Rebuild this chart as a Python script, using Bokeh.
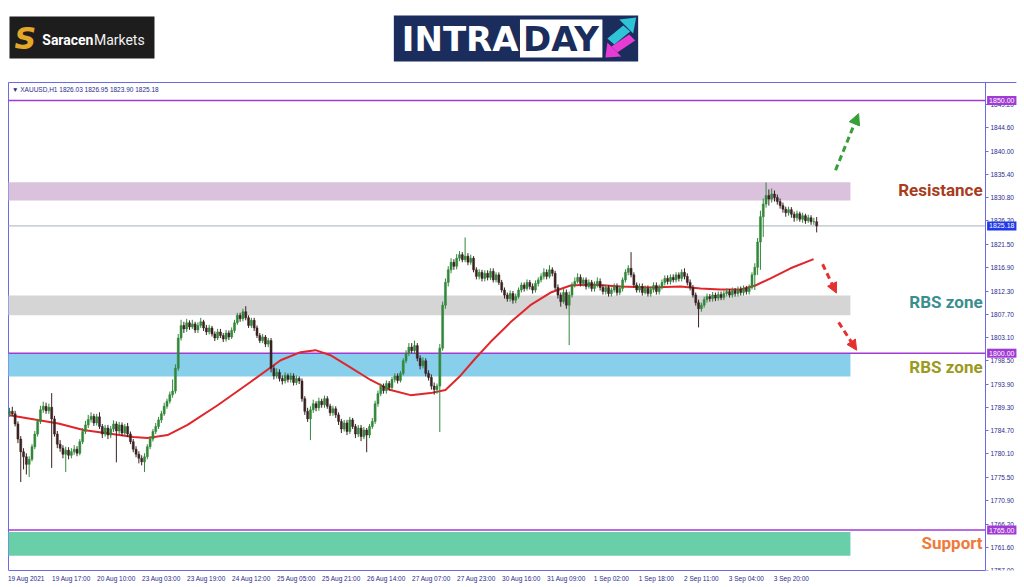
from bokeh.plotting import figure
from bokeh.layouts import column
from bokeh.models import Range1d, FixedTicker, Label, Arrow, NormalHead, PrintfTickFormatter, ColumnDataSource
from bokeh.core.properties import value
from bokeh.embed import file_html
from bokeh.resources import INLINE

# ---------------- data ----------------
first_open = 1788.0
closes = [
    1788.5, 1788.0, 1786.0, 1783.0, 1780.5, 1779.5, 1778.0, 1779.0, 1781.5, 1784.0,
    1786.5, 1788.8, 1789.5, 1788.6, 1789.3, 1787.0, 1784.0, 1782.0, 1781.2, 1780.0,
    1780.8, 1779.8, 1780.5, 1781.0, 1780.2, 1782.5, 1784.5, 1785.8, 1786.9, 1787.5,
    1786.2, 1787.4, 1785.5, 1784.0, 1785.2, 1783.8, 1785.0, 1786.0, 1784.6, 1785.8,
    1784.2, 1785.5, 1784.0, 1782.5, 1781.0, 1780.0, 1779.2, 1778.5, 1779.5, 1781.5,
    1783.0, 1784.5, 1785.5, 1786.8, 1788.0, 1789.5, 1790.5, 1791.8, 1792.5, 1797.0,
    1803.0, 1805.5, 1804.8, 1806.0, 1805.2, 1805.8, 1804.6, 1805.5, 1806.2, 1805.0,
    1804.2, 1805.0, 1803.8, 1803.0, 1804.2, 1803.5, 1802.8, 1804.0, 1803.2, 1804.5,
    1806.0, 1807.5, 1806.8, 1808.2, 1807.0, 1805.5, 1806.5, 1805.0, 1803.5, 1802.5,
    1803.2, 1801.8, 1802.5, 1797.0, 1795.5, 1796.2, 1795.0, 1794.5, 1795.6, 1794.8,
    1795.5, 1794.2, 1795.0, 1794.5, 1791.0, 1788.5, 1787.0, 1788.8, 1790.0, 1789.2,
    1790.5, 1789.8, 1791.0, 1789.5, 1788.2, 1789.0, 1787.8, 1786.5, 1785.0, 1786.2,
    1784.5, 1786.8, 1785.5, 1784.0, 1785.2, 1783.5, 1784.8, 1783.8, 1785.5, 1786.5,
    1790.0, 1792.0, 1793.5, 1792.6, 1794.0, 1793.2, 1794.8, 1795.5, 1794.6, 1796.0,
    1798.5, 1800.0, 1801.2, 1800.5, 1801.5, 1799.0, 1797.5, 1798.5, 1796.0, 1795.2,
    1793.5, 1792.8, 1793.5, 1801.0, 1809.5, 1814.0, 1816.5, 1818.0, 1817.2, 1818.8,
    1819.5, 1818.5, 1819.2, 1818.0, 1818.8, 1816.5, 1815.2, 1816.0, 1814.8, 1815.8,
    1815.0, 1816.2, 1814.5, 1815.5, 1814.0, 1812.5, 1811.5, 1810.8, 1811.8, 1810.5,
    1811.2, 1812.5, 1813.5, 1812.8, 1814.0, 1813.2, 1812.5, 1813.8, 1814.5, 1815.2,
    1816.0, 1815.2, 1816.5, 1815.8, 1813.0, 1811.5, 1810.2, 1812.0, 1809.5, 1811.5,
    1813.5, 1814.2, 1815.0, 1813.8, 1814.5, 1813.2, 1814.0, 1812.8, 1813.6, 1814.2,
    1813.0, 1812.2, 1813.0, 1811.8, 1812.5, 1813.2, 1812.0, 1812.8, 1814.5, 1816.0,
    1816.8, 1815.5, 1813.5, 1812.5, 1813.2, 1812.0, 1812.8, 1811.8, 1812.6, 1813.4,
    1812.2, 1813.0, 1814.0, 1814.8, 1814.2, 1815.0, 1814.5, 1815.5, 1814.8, 1816.0,
    1815.2, 1814.0, 1813.0, 1811.5, 1810.0, 1808.8, 1809.5, 1810.6, 1811.2, 1810.8,
    1811.5, 1810.9, 1811.6, 1811.0, 1811.8, 1812.2, 1811.5, 1812.4, 1811.8, 1812.6,
    1812.0, 1812.8, 1812.2, 1813.0, 1815.5, 1817.0, 1822.0, 1827.0, 1829.5, 1831.2,
    1830.5, 1831.5, 1830.8, 1830.0, 1829.2, 1828.5, 1827.8, 1828.4, 1827.5, 1826.8,
    1827.6, 1826.5, 1827.2, 1826.2, 1826.8, 1826.0, 1826.03, 1825.18,
]
highs = [
    1789.2, 1789.4, 1788.6, 1786.5, 1783.6, 1781.2, 1780.2, 1779.6, 1782.0, 1784.6,
    1787.0, 1789.6, 1790.4, 1790.2, 1790.0, 1792.1, 1787.6, 1784.6, 1782.8, 1781.8,
    1781.5, 1781.4, 1781.2, 1781.8, 1781.6, 1783.0, 1785.2, 1786.6, 1787.8, 1788.3,
    1788.0, 1788.0, 1788.3, 1786.0, 1785.8, 1785.8, 1785.6, 1786.7, 1786.5, 1786.4,
    1786.3, 1786.0, 1786.2, 1784.5, 1783.0, 1781.6, 1780.6, 1779.8, 1780.2, 1782.0,
    1783.6, 1785.0, 1786.2, 1787.4, 1788.6, 1790.2, 1791.0, 1792.4, 1794.8, 1797.8,
    1803.8, 1806.6, 1806.2, 1806.8, 1806.5, 1806.6, 1806.2, 1806.1, 1807.0, 1806.6,
    1805.6, 1805.6, 1805.4, 1804.3, 1804.8, 1804.8, 1804.0, 1804.6, 1804.5, 1805.1,
    1806.6, 1808.0, 1808.0, 1808.8, 1809.3, 1807.5, 1807.0, 1807.0, 1805.5, 1804.0,
    1803.8, 1803.6, 1803.0, 1803.0, 1797.6, 1797.0, 1796.8, 1795.6, 1796.2, 1796.0,
    1796.1, 1796.0, 1795.6, 1795.4, 1795.0, 1791.5, 1789.2, 1789.5, 1790.8, 1790.5,
    1791.2, 1791.0, 1791.6, 1791.5, 1790.0, 1789.6, 1789.5, 1788.3, 1787.0, 1786.8,
    1786.8, 1787.4, 1787.2, 1786.0, 1785.8, 1785.8, 1785.4, 1785.2, 1786.0, 1787.2,
    1790.6, 1792.6, 1794.0, 1794.0, 1794.6, 1794.5, 1795.3, 1796.0, 1796.0, 1796.5,
    1799.0, 1800.6, 1802.0, 1802.0, 1802.5, 1802.0, 1799.6, 1799.2, 1799.0, 1796.6,
    1795.8, 1794.2, 1794.0, 1801.8, 1810.2, 1814.8, 1817.2, 1818.8, 1818.6, 1819.6,
    1820.2, 1820.0, 1822.9, 1819.8, 1819.5, 1819.2, 1817.0, 1816.6, 1816.5, 1816.4,
    1816.4, 1816.8, 1816.8, 1816.0, 1816.0, 1814.5, 1813.0, 1812.0, 1812.4, 1812.3,
    1811.8, 1813.0, 1814.0, 1814.0, 1814.6, 1814.5, 1813.8, 1814.4, 1815.0, 1815.8,
    1816.8, 1816.6, 1817.4, 1817.0, 1816.3, 1813.6, 1812.0, 1812.8, 1812.6, 1812.2,
    1814.0, 1815.0, 1815.8, 1815.6, 1815.0, 1815.0, 1814.6, 1814.5, 1814.2, 1815.0,
    1814.8, 1813.6, 1813.6, 1813.5, 1813.0, 1813.8, 1813.8, 1813.4, 1815.0, 1816.6,
    1817.4, 1820.0, 1816.0, 1814.0, 1813.8, 1813.8, 1813.4, 1813.4, 1813.2, 1814.0,
    1814.0, 1813.6, 1814.6, 1815.4, 1815.4, 1815.6, 1815.6, 1816.0, 1816.0, 1816.6,
    1816.8, 1815.8, 1814.6, 1813.5, 1812.0, 1810.6, 1810.0, 1811.2, 1811.8, 1811.7,
    1812.1, 1812.0, 1812.2, 1812.2, 1812.4, 1812.8, 1812.7, 1813.0, 1812.9, 1813.2,
    1813.2, 1813.4, 1813.3, 1813.6, 1816.0, 1817.8, 1822.8, 1828.2, 1830.6, 1833.8,
    1832.4, 1832.6, 1832.2, 1831.4, 1830.6, 1829.8, 1829.0, 1829.0, 1828.9, 1828.0,
    1828.2, 1828.0, 1827.8, 1827.6, 1827.4, 1827.3, 1826.8, 1826.95,
]
lows = [
    1787.4, 1787.6, 1785.5, 1782.2, 1774.5, 1777.0, 1776.0, 1775.5, 1778.6, 1781.0,
    1783.5, 1786.0, 1788.2, 1788.0, 1788.0, 1777.3, 1783.5, 1781.2, 1780.5, 1779.2,
    1776.5, 1779.0, 1779.2, 1779.9, 1779.6, 1779.8, 1782.0, 1784.0, 1785.2, 1786.3,
    1785.6, 1785.7, 1785.0, 1783.2, 1783.5, 1783.0, 1783.2, 1784.4, 1778.4, 1784.0,
    1783.6, 1783.8, 1783.4, 1782.0, 1780.4, 1779.4, 1778.2, 1777.8, 1776.5, 1779.0,
    1781.0, 1782.5, 1784.0, 1785.0, 1786.2, 1787.6, 1789.0, 1790.0, 1791.2, 1792.0,
    1796.5, 1802.5, 1804.0, 1804.2, 1804.6, 1804.8, 1804.0, 1804.0, 1805.0, 1804.4,
    1803.6, 1803.7, 1803.3, 1802.4, 1802.6, 1803.0, 1802.2, 1802.3, 1802.6, 1802.8,
    1804.0, 1805.6, 1806.2, 1806.3, 1806.5, 1805.0, 1805.0, 1804.4, 1803.0, 1802.0,
    1802.0, 1801.2, 1801.2, 1796.2, 1794.8, 1795.0, 1794.4, 1793.8, 1794.0, 1794.2,
    1794.2, 1793.6, 1793.7, 1793.9, 1790.4, 1787.8, 1786.4, 1782.8, 1788.2, 1788.5,
    1788.6, 1789.2, 1789.2, 1789.0, 1787.6, 1787.6, 1787.2, 1785.8, 1784.2, 1784.5,
    1783.8, 1784.0, 1785.0, 1783.2, 1783.4, 1782.6, 1783.0, 1780.4, 1783.2, 1785.0,
    1786.0, 1789.4, 1791.5, 1792.0, 1792.0, 1792.6, 1792.8, 1794.2, 1794.0, 1794.2,
    1795.6, 1798.0, 1799.4, 1800.0, 1799.8, 1798.4, 1796.8, 1797.0, 1795.4, 1794.6,
    1792.8, 1791.8, 1792.0, 1784.4, 1800.5, 1808.8, 1813.2, 1815.8, 1816.5, 1816.6,
    1818.2, 1818.0, 1818.0, 1817.4, 1817.5, 1816.0, 1814.6, 1814.6, 1814.2, 1814.2,
    1814.4, 1814.5, 1814.0, 1814.0, 1813.5, 1812.0, 1810.8, 1810.2, 1810.2, 1809.8,
    1809.9, 1810.8, 1812.0, 1812.2, 1812.4, 1812.6, 1811.8, 1812.0, 1813.2, 1814.0,
    1814.6, 1814.6, 1814.8, 1815.2, 1812.5, 1810.8, 1809.2, 1809.8, 1808.8, 1801.6,
    1811.0, 1813.0, 1813.8, 1813.2, 1813.2, 1812.6, 1812.8, 1812.2, 1812.2, 1813.0,
    1812.4, 1811.6, 1811.6, 1811.2, 1811.2, 1812.0, 1811.4, 1811.5, 1812.2, 1814.0,
    1815.4, 1815.0, 1813.0, 1812.0, 1812.0, 1811.4, 1811.6, 1811.2, 1811.2, 1812.0,
    1811.6, 1811.6, 1812.6, 1813.4, 1813.6, 1813.6, 1814.0, 1814.0, 1814.2, 1814.2,
    1814.6, 1813.4, 1812.4, 1811.0, 1809.4, 1805.1, 1808.2, 1809.0, 1810.0, 1810.2,
    1810.2, 1810.3, 1810.4, 1810.5, 1810.5, 1811.2, 1811.0, 1811.0, 1811.2, 1811.2,
    1811.4, 1811.4, 1811.6, 1811.6, 1812.6, 1812.5, 1815.5, 1816.5, 1823.0, 1828.8,
    1829.2, 1829.8, 1830.0, 1829.4, 1828.6, 1827.8, 1827.0, 1827.2, 1826.8, 1826.0,
    1826.2, 1826.0, 1825.8, 1825.6, 1825.8, 1825.4, 1825.4, 1823.90,
]
opens = [first_open] + closes[:-1]

ma_bars = [0, 17.4, 26.3, 44.1, 49.1, 56.2, 63.3, 74.0, 85.7, 96.4, 103.5, 108.8, 114.1,
           121.2, 128.4, 135.5, 142.6, 149.7, 155.0, 160.4, 165.7, 171.0, 178.1, 185.2,
           192.4, 199.5, 206.6, 217.2, 227.9, 238.6, 245.7, 252.8, 259.9, 265.2, 270.6,
           277.7, 285.9]
ma_vals = [1787.7, 1786.1, 1784.8, 1783.4, 1783.2, 1783.8, 1785.8, 1789.7, 1794.3, 1798.6,
           1800.2, 1800.6, 1799.6, 1797.2, 1794.7, 1792.7, 1791.7, 1792.1, 1792.7, 1795.6,
           1799.0, 1802.2, 1806.1, 1809.5, 1812.0, 1813.4, 1813.6, 1813.2, 1813.0, 1813.2,
           1812.8, 1812.6, 1812.6, 1813.4, 1814.8, 1816.8, 1818.6]

ytick_vals = [1757.00, 1761.60, 1766.20, 1770.90, 1775.50, 1780.10, 1784.70, 1789.30,
              1793.90, 1798.50, 1803.10, 1807.70, 1812.30, 1816.90, 1821.50, 1826.20,
              1830.80, 1835.40, 1840.00, 1844.60, 1849.20]
xtick_bars = [6, 22, 38, 54, 70, 86, 102, 118, 134, 150, 166, 182, 198, 214, 230, 246, 262, 278]
xtick_labels = ["19 Aug 2021", "19 Aug 17:00", "20 Aug 10:00", "23 Aug 03:00", "23 Aug 19:00",
                "24 Aug 12:00", "25 Aug 05:00", "25 Aug 21:00", "26 Aug 14:00", "27 Aug 07:00",
                "27 Aug 23:00", "30 Aug 16:00", "31 Aug 09:00", "1 Sep 02:00", "1 Sep 18:00",
                "2 Sep 11:00", "3 Sep 04:00", "3 Sep 20:00"]

zone_names = ["Resistance", "RBS zone", "RBS zone", "Support"]
zone_tops = [1833.8, 1811.4, 1800.0, 1764.6]
zone_bottoms = [1830.2, 1807.5, 1795.4, 1759.9]
zone_label_y = [1832.2, 1810.2, 1797.2, 1762.4]
key_levels = [1850.00, 1800.00, 1765.00]
last_price = 1825.18
symbol_text = "\u25BC XAUUSD,H1  1826.03 1826.95 1823.90 1825.18"

# ---------------- styles / positions ----------------
zone_colors = ["#dac2dc", "#d5d5d5", "#88cfec", "#68cfa8"]
label_colors = ["#a83c1c", "#3a8e8e", "#9a9a20", "#f07a3a"]
BULL = "#33873a"
BEAR = "#3b2222"
AXIS_BLUE = "#6a6ae6"
TEXT_BLUE = "#2b2b8c"
LEVEL_PURPLE = "#a23ad6"

X0, X1 = -0.711, 360.889          # frame spans page x 7..1024
Y0, Y1 = 1757.0, 1853.76          # frame spans page y 81..570
LEFT_X = -0.356                   # chart border (page x 8)
AXIS_X = 347.02                   # price scale line (page x 985)
BORDER_RIGHT = 358.0
TOP_Y = 1853.56                   # chart top border (page y 82)
ZONE_RIGHT = 299.0
LABEL_RIGHT = 346.0
PRICE_BOX_X = 347.6

# ---------------- header (logos) ----------------
h = figure(width=1024, height=80, x_range=Range1d(0, 1024), y_range=Range1d(80, 0),
           output_backend="svg", toolbar_location=None, x_axis_type=None, y_axis_type=None,
           min_border=0, outline_line_color=None)
h.grid.visible = False
h.quad(left=[2], right=[148], top=[16], bottom=[58], fill_color="#1d1d1d", line_color=None)
h.text(x=[18], y=[38], text=["S"], text_font=value("DejaVu Sans"), text_font_style="bold italic",
       text_font_size="30px", text_color="#e3a82a", text_baseline="middle", text_align="center")
h.text(x=[35], y=[39], text=["Saracen"], text_font=value("Roboto"), text_font_style="bold",
       text_font_size="14px", text_color="white", text_baseline="middle")
h.text(x=[87], y=[39], text=["Markets"], text_font=value("Roboto"),
       text_font_size="14px", text_color="#f2f2f2", text_baseline="middle")
h.quad(left=[389], right=[635], top=[15], bottom=[61], fill_color="#1a2d5c", line_color=None)
h.quad(left=[516], right=[599], top=[19], bottom=[57], fill_color="white", line_color=None)
h.text(x=[397], y=[38], text=["INTRA"], text_font=value("DejaVu Sans"), text_font_style="bold",
       text_font_size="34px", text_color="white", text_baseline="middle")
h.text(x=[519], y=[38], text=["DAY"], text_font=value("DejaVu Sans"), text_font_style="bold",
       text_font_size="34px", text_color="#1a2d5c", text_baseline="middle")
h.patches(xs=[[633, 616, 630], [620, 627, 611, 604]], ys=[[17, 19, 33], [25, 31, 44, 38]],
          fill_color="#2fc3d8", line_color=None)
h.patches(xs=[[602, 604, 618], [608, 614, 632, 626]], ys=[[57, 42, 56], [46, 52, 40, 34]],
          fill_color="#e63cd4", line_color=None)

# ---------------- main chart ----------------
p = figure(width=1024, height=506, x_range=Range1d(X0, X1), y_range=Range1d(Y0, Y1),
           output_backend="svg", toolbar_location=None, y_axis_location="right",
           min_border_left=7, min_border_top=1, min_border_right=0, min_border_bottom=16)
p.grid.visible = False
p.outline_line_color = None
p.background_fill_color = "white"
p.border_fill_color = "white"

# chart window border (left and top)
p.segment(x0=[LEFT_X, LEFT_X], y0=[Y0, TOP_Y], x1=[LEFT_X, BORDER_RIGHT], y1=[TOP_Y, TOP_Y],
          line_color=AXIS_BLUE, line_width=1)

# zones
p.quad(left=[LEFT_X] * 4, right=[ZONE_RIGHT] * 4, top=zone_tops, bottom=zone_bottoms,
       fill_color=zone_colors, line_color=None)

# current price line and key levels
p.segment(x0=[LEFT_X], x1=[AXIS_X], y0=[last_price], y1=[last_price],
          line_color="#a9b2ba", line_width=1)
p.segment(x0=[LEFT_X] * 3, x1=[AXIS_X] * 3, y0=key_levels, y1=key_levels,
          line_color=LEVEL_PURPLE, line_width=1.6)

# moving average
p.line(ma_bars, ma_vals, line_color="#e0262a", line_width=2)

# candles
idx = list(range(len(closes)))
src = ColumnDataSource(dict(
    x=idx, high=highs, low=lows,
    top=[max(o, c) for o, c in zip(opens, closes)],
    bottom=[min(o, c) for o, c in zip(opens, closes)],
    color=[BULL if c >= o else BEAR for o, c in zip(opens, closes)],
))
p.segment(x0="x", x1="x", y0="low", y1="high", line_color="color", line_width=1, source=src)
p.vbar(x="x", width=0.72, top="top", bottom="bottom", fill_color="color", line_color="color",
       line_width=0.5, source=src)

# zone labels
p.text(x=[LABEL_RIGHT] * 4, y=zone_label_y, text=zone_names, text_font=value("Roboto"),
       text_font_style="bold", text_font_size="17px", text_color=label_colors,
       text_align="right", text_baseline="middle")

# symbol header text
p.add_layout(Label(x=0.9, y=1852.2, text=symbol_text, text_font_size="6.5px",
                   text_color=TEXT_BLUE, text_baseline="middle", text_font="Liberation Sans"))

# arrows
p.add_layout(Arrow(x_start=293.7, y_start=1836.2, x_end=301.9, y_end=1847.4,
                   line_color="#35a035", line_width=3, line_dash="6 4",
                   end=NormalHead(size=11, fill_color="#35a035", line_color="#35a035")))
p.add_layout(Arrow(x_start=289.1, y_start=1817.6, x_end=294.0, y_end=1811.9,
                   line_color="#e53030", line_width=3, line_dash="6 4",
                   end=NormalHead(size=10, fill_color="#e53030", line_color="#e53030")))
p.add_layout(Arrow(x_start=294.8, y_start=1806.1, x_end=301.2, y_end=1800.6,
                   line_color="#e53030", line_width=3, line_dash="6 4",
                   end=NormalHead(size=10, fill_color="#e53030", line_color="#e53030")))

# price axis (right side, placed on the price-scale line)
p.yaxis.fixed_location = AXIS_X
p.yaxis.bounds = (Y0, TOP_Y)
p.yaxis.ticker = FixedTicker(ticks=ytick_vals)
p.yaxis.formatter = PrintfTickFormatter(format="%.2f")
p.yaxis.major_tick_out = 3
p.yaxis.major_tick_in = 0
p.yaxis.minor_tick_line_color = None
p.yaxis.axis_line_color = AXIS_BLUE
p.yaxis.major_tick_line_color = AXIS_BLUE
p.yaxis.major_label_text_font = "Liberation Sans"
p.yaxis.major_label_text_font_size = "6.5px"
p.yaxis.major_label_text_color = TEXT_BLUE
p.yaxis.major_label_standoff = 2

# time axis
p.xaxis.bounds = (LEFT_X, AXIS_X)
p.xaxis.ticker = FixedTicker(ticks=xtick_bars)
p.xaxis.major_label_overrides = {b: t for b, t in zip(xtick_bars, xtick_labels)}
p.xaxis.major_tick_line_color = None
p.xaxis.major_tick_out = 0
p.xaxis.major_tick_in = 0
p.xaxis.minor_tick_line_color = None
p.xaxis.axis_line_color = AXIS_BLUE
p.xaxis.major_label_text_font = "Liberation Sans"
p.xaxis.major_label_text_font_size = "6.5px"
p.xaxis.major_label_text_color = TEXT_BLUE
p.xaxis.major_label_standoff = 4

# price boxes on the price scale
box_prices = [1850.00, last_price, 1800.00, 1765.00]
box_colors = [LEVEL_PURPLE, "#2038e8", LEVEL_PURPLE, LEVEL_PURPLE]
for bp, bc in zip(box_prices, box_colors):
    p.add_layout(Label(x=PRICE_BOX_X, y=bp, text=f"{bp:.2f}", text_font_size="7px",
                       text_color="white", background_fill_color=bc, text_baseline="middle",
                       text_font="Liberation Sans", padding=2))

layout = column(h, p, spacing=0)
open("out.html", "w").write(file_html(layout, INLINE))
